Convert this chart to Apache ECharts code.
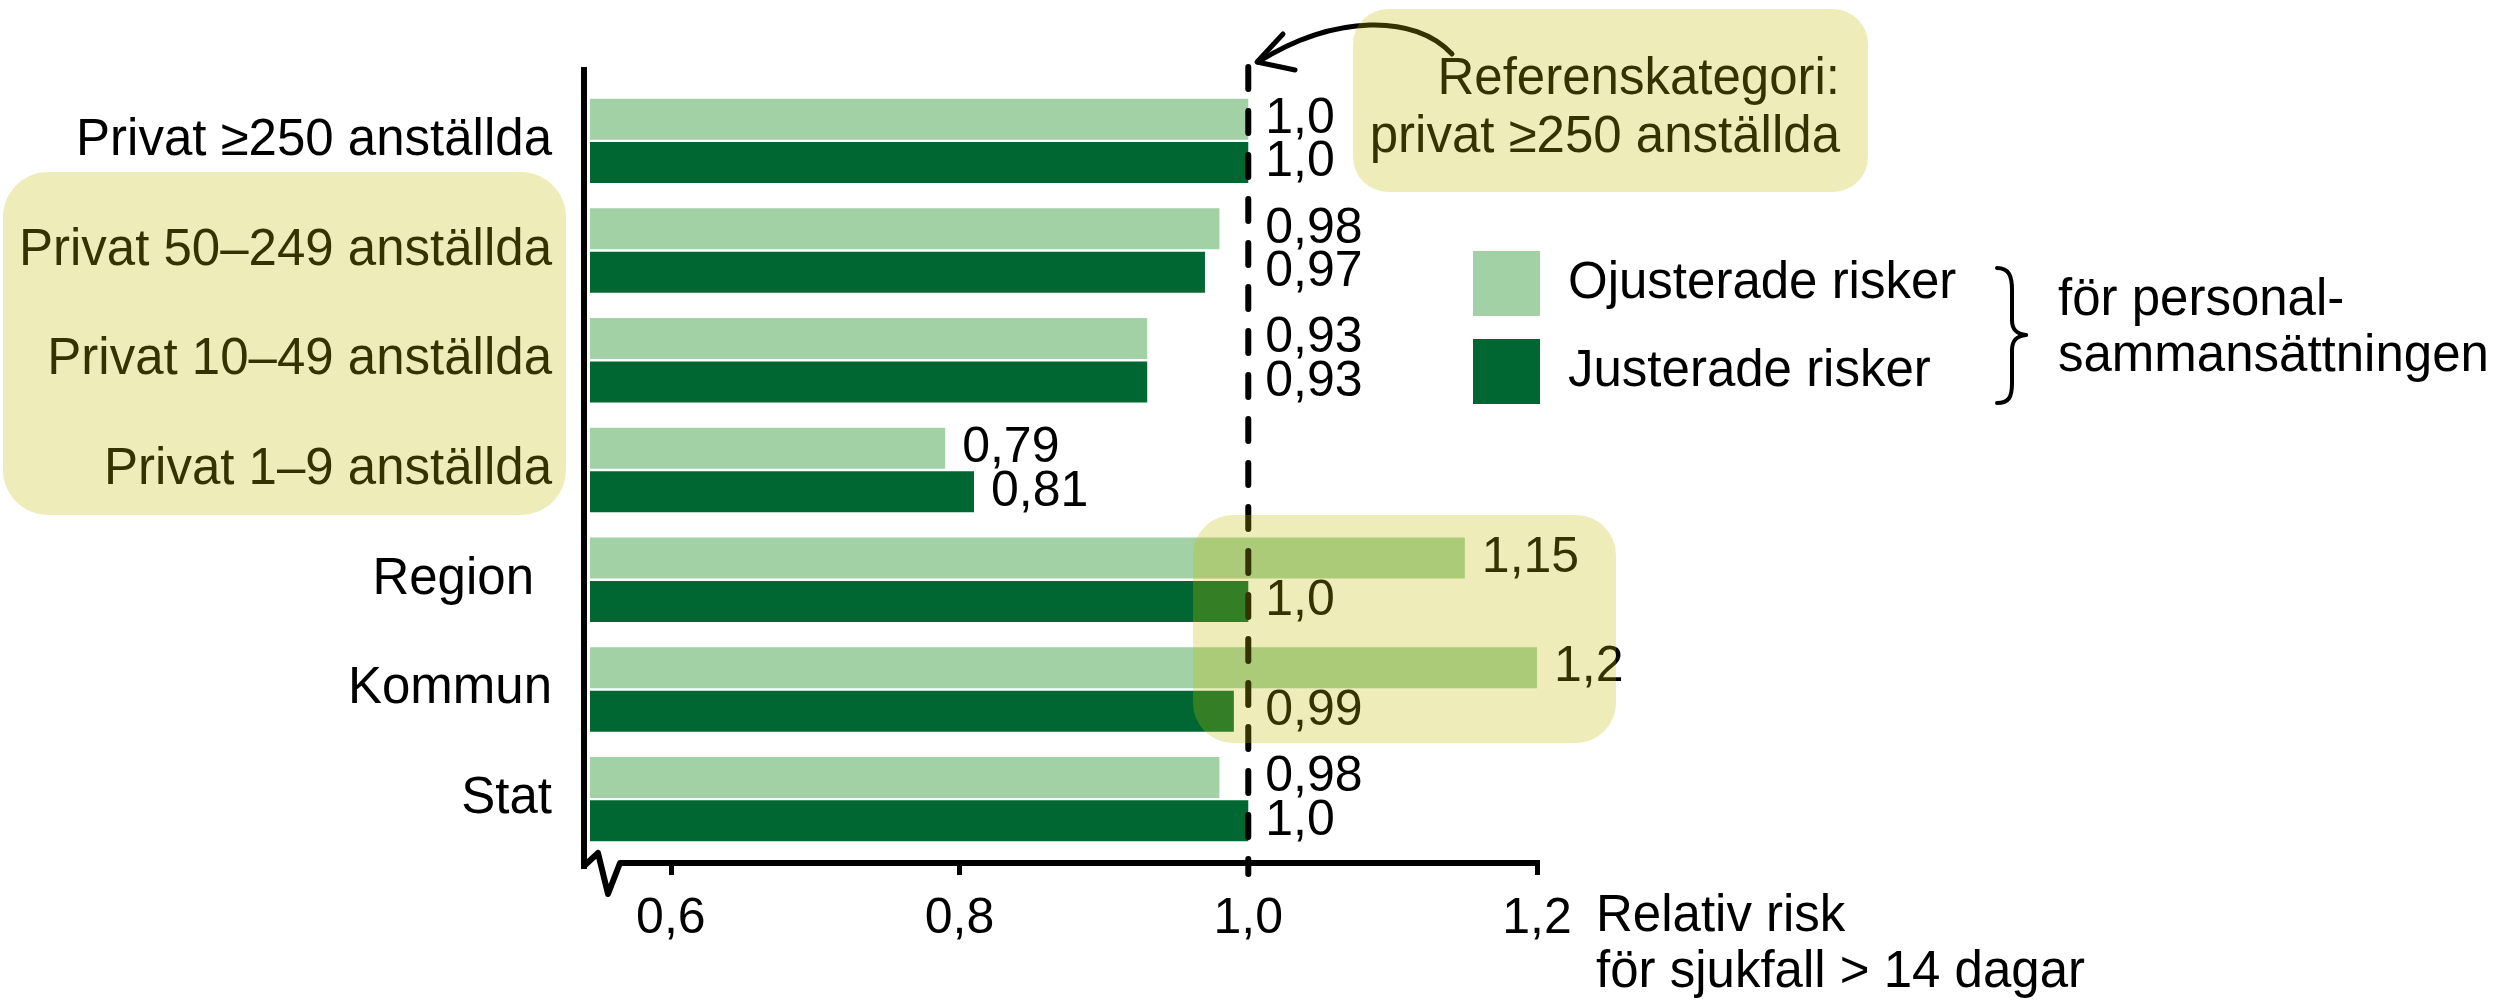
<!DOCTYPE html>
<html>
<head>
<meta charset="utf-8">
<script src="https://cdn.jsdelivr.net/npm/echarts@6/dist/echarts.min.js"></script>
<style>html,body{margin:0;padding:0;background:#fff}#c{width:2495px;height:1003px}</style>
</head>
<body>
<div id="c"></div>
<script>
// ---- data ----
const categories = ['Privat ≥250 anställda', 'Privat 50–249 anställda', 'Privat 10–49 anställda', 'Privat 1–9 anställda', 'Region', 'Kommun', 'Stat'];
const unadjusted = [1.0, 0.98, 0.93, 0.79, 1.15, 1.2, 0.98];
const adjusted = [1.0, 0.97, 0.93, 0.81, 1.0, 0.99, 1.0];
const seriesNames = ['Ojusterade risker', 'Justerade risker'];
const tickValues = [0.6, 0.8, 1.0, 1.2];
const referenceValue = 1.0;
const axisTitle = ['Relativ risk', 'för sjukfall > 14 dagar'];
const legendNote = ['för personal-', 'sammansättningen'];
const refNote = ['Referenskategori:', 'privat ≥250 anställda'];

// ---- style ----
const FONT = "'Liberation Sans', Arial, Helvetica, sans-serif";
const LIGHT = '#A3D1A6';
const DARK = '#006733';
const HIGHLIGHT = 'rgba(193,189,0,0.27)';
const FS = 51;

function fmt(v) {
  let s = String(Math.round(v * 100) / 100);
  if (s.indexOf('.') < 0) s += '.0';
  return s.replace('.', ',');
}

const chart = echarts.init(document.getElementById('c'), null, {renderer: 'canvas'});

function seriesData(values, ppu, xRef) {
  return values.map(function (v) {
    const item = {value: v};
    if (ppu) {
      const xEnd = chart.convertToPixel({xAxisIndex: 0}, v);
      if (v < referenceValue && xEnd + 17 + 100 > xRef) {
        item.label = {offset: [(referenceValue - v) * ppu, 0]};
      }
    }
    return item;
  });
}

function barSeries(name, values, color, ppu, xRef) {
  return {
    name: name,
    type: 'bar',
    data: seriesData(values, ppu, xRef),
    barWidth: 41,
    barGap: '6%',
    itemStyle: {color: color},
    label: {
      show: true,
      position: 'right',
      distance: 17,
      formatter: function (p) { return fmt(p.value); },
      fontSize: 50,
      fontFamily: FONT,
      color: '#000'
    },
    emphasis: {disabled: true},
    animation: false
  };
}

const option = {
  backgroundColor: '#fff',
  animation: false,
  grid: {left: 590, right: 958, top: 86, bottom: 149, containLabel: false},
  legend: {
    orient: 'vertical',
    left: 1473,
    top: 251,
    padding: 0,
    itemWidth: 67,
    itemHeight: 65,
    itemGap: 23,
    icon: 'rect',
    selectedMode: false,
    data: seriesNames,
    textStyle: {fontSize: FS, fontFamily: FONT, color: '#000', padding: [0, 0, 0, 23]}
  },
  xAxis: {
    type: 'value',
    min: 0.544,
    max: 1.2,
    offset: 9,
    axisLine: {show: false},
    axisTick: {show: true, customValues: tickValues, length: 12, lineStyle: {color: '#000', width: 5}},
    axisLabel: {customValues: tickValues, formatter: fmt, margin: 31, fontSize: 50, fontFamily: FONT, color: '#000'},
    splitLine: {show: false},
    name: axisTitle.join('\n'),
    nameLocation: 'end',
    nameGap: 59,
    nameTextStyle: {fontSize: FS, fontFamily: FONT, color: '#000', align: 'left', verticalAlign: 'top', lineHeight: 56, padding: [26, 0, 0, 0]}
  },
  yAxis: {
    type: 'category',
    inverse: true,
    data: categories,
    axisLine: {show: false},
    axisTick: {show: false},
    axisLabel: {
      margin: 38,
      fontSize: FS,
      fontFamily: FONT,
      color: '#000',
      formatter: function (v) { return v === 'Region' ? '{r|' + v + '}' : v; },
      rich: {r: {fontSize: FS, fontFamily: FONT, color: '#000', padding: [0, 18, 0, 0]}}
    }
  },
  series: [
    barSeries(seriesNames[0], unadjusted, LIGHT),
    barSeries(seriesNames[1], adjusted, DARK)
  ]
};

chart.setOption(option);

// positions derived from the library's scale
const xRef = chart.convertToPixel({xAxisIndex: 0}, referenceValue);
const xMax = chart.convertToPixel({xAxisIndex: 0}, tickValues[tickValues.length - 1]);
const ppu = (xRef - chart.convertToPixel({xAxisIndex: 0}, 0.9)) * 10;
const axisY = 863;
const axisX = 584;
const INK = {stroke: '#000', lineWidth: 5, fill: null, lineCap: 'round'};

function txt(text, x, y, align) {
  return {type: 'text', z: 10, style: {text: text, x: x, y: y, font: FS + 'px ' + FONT, fill: '#000', textAlign: align, textVerticalAlign: 'middle'}};
}
function box(x, y, w, h, r) {
  return {type: 'rect', z: 100, silent: true, shape: {x: x, y: y, width: w, height: h, r: r}, style: {fill: HIGHLIGHT}};
}
function curve(x1, y1, c1x, c1y, c2x, c2y, x2, y2, w) {
  return {type: 'bezierCurve', z: 10, shape: {x1: x1, y1: y1, cpx1: c1x, cpy1: c1y, cpx2: c2x, cpy2: c2y, x2: x2, y2: y2}, style: Object.assign({}, INK, {lineWidth: w})};
}
function seg(x1, y1, x2, y2, w) {
  return {type: 'line', z: 10, shape: {x1: x1, y1: y1, x2: x2, y2: y2}, style: Object.assign({}, INK, {lineWidth: w})};
}

chart.setOption({
  series: [
    barSeries(seriesNames[0], unadjusted, LIGHT, ppu, xRef),
    barSeries(seriesNames[1], adjusted, DARK, ppu, xRef)
  ],
  graphic: [
    // vertical axis line
    {type: 'line', z: 10, shape: {x1: axisX, y1: 67, x2: axisX, y2: 869}, style: {stroke: '#000', lineWidth: 6}},
    // axis break + horizontal axis line
    {type: 'polyline', z: 10, shape: {points: [[axisX, 866], [598, 853], [608, 894], [620, axisY], [xMax + 3, axisY]]}, style: {stroke: '#000', lineWidth: 6, fill: null, lineJoin: 'round'}},
    // reference dashed line
    {type: 'line', z: 10, shape: {x1: xRef, y1: 67, x2: xRef, y2: 874}, style: {stroke: '#000', lineWidth: 6, lineDash: [22, 22], lineCap: 'round'}},
    // curved arrow
    curve(1452, 54, 1415, 14, 1335, 14, 1258, 62, 5),
    {type: 'polyline', z: 10, shape: {points: [[1283, 34], [1257, 62], [1295, 70]]}, style: {stroke: '#000', lineWidth: 5, fill: null, lineCap: 'round', lineJoin: 'round'}},
    // brace
    curve(1997, 268, 2009, 268, 2012, 276, 2012, 290, 4),
    seg(2012, 290, 2012, 320, 4),
    curve(2012, 320, 2012, 330, 2017, 334, 2026, 335, 4),
    curve(2026, 335, 2017, 336, 2012, 340, 2012, 350, 4),
    seg(2012, 350, 2012, 383, 4),
    curve(2012, 383, 2012, 397, 2009, 403, 1997, 403, 4),
    // notes
    txt(refNote[0], 1840, 80, 'right'),
    txt(refNote[1], 1840, 138, 'right'),
    txt(legendNote[0], 2058, 301, 'left'),
    txt(legendNote[1], 2058, 357, 'left'),
    // highlight boxes (drawn on top)
    box(3, 172, 563, 343, 45),
    box(1193, 515, 423, 228, 40),
    box(1353, 9, 515, 183, 35)
  ]
});
</script>
</body>
</html>
